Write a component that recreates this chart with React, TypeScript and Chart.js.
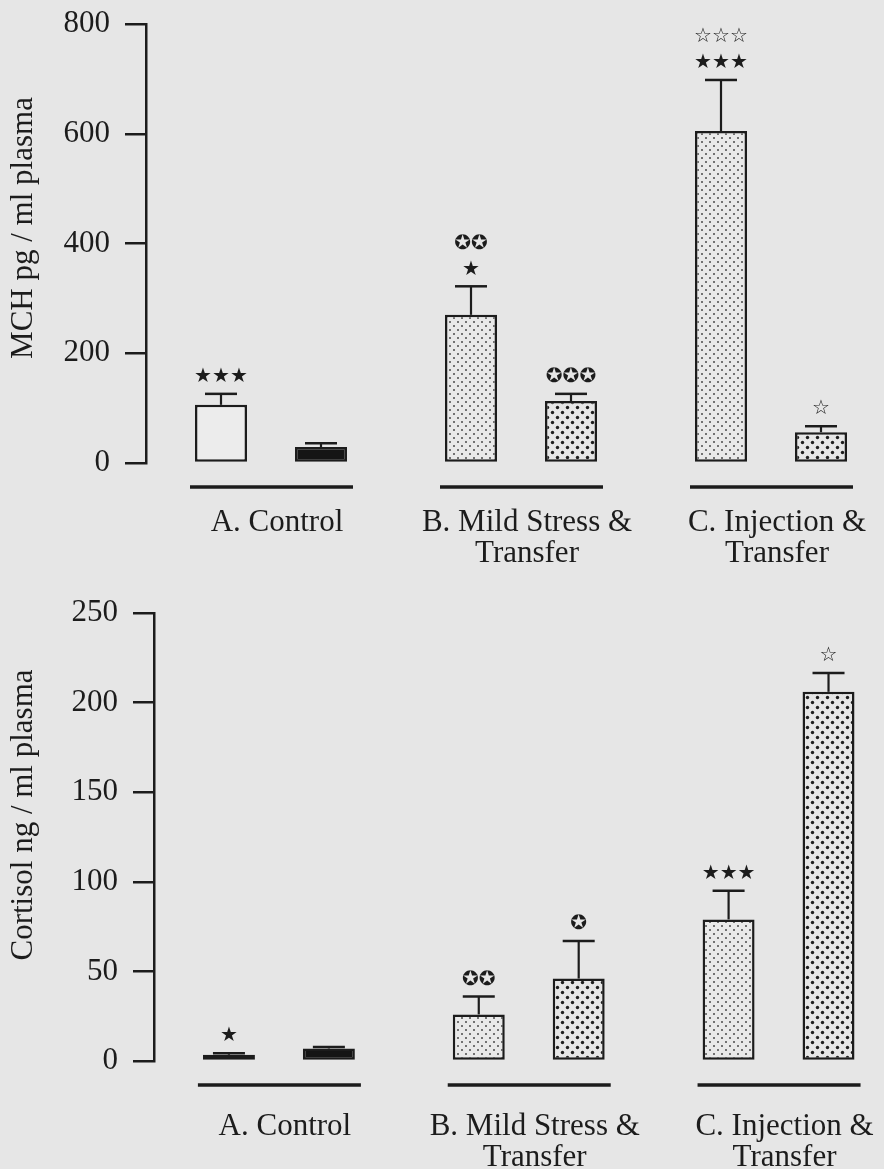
import React, { useEffect, useRef } from "react";
import { Chart, registerables } from "chart.js";

Chart.register(...registerables);

// ---------- data ----------
const groupLabels = [["A. Control"], ["B. Mild Stress &", "Transfer"], ["C. Injection &", "Transfer"]];

// MCH (pg / ml plasma)
const mchFirst = [106, 270, 605];
const mchFirstErr = [20, 52, 93];
const mchSecond = [29, 113, 56];
const mchSecondErr = [7, 13, 11];
const mchFirstMarks = [["★★★"], ["✪✪", "★"], ["☆☆☆", "★★★"]];
const mchSecondMarks = [[], ["✪✪✪"], ["☆"]];
const mchTicks = [0, 200, 400, 600, 800];

// Cortisol (ng / ml plasma)
const cortFirst = [3.5, 26, 79];
const cortFirstErr = [0.8, 10, 16];
const cortSecond = [7, 46, 206];
const cortSecondErr = [0.8, 21, 10.5];
const cortFirstMarks = [["★"], ["✪✪"], ["★★★"]];
const cortSecondMarks = [[], ["✪"], ["☆"]];
const cortTicks = [0, 50, 100, 150, 200, 250];

// ---------- style ----------
const INK = "#1c1c1c";
const PAGE = "#e6e6e6";
const SERIF = '"Liberation Serif", "Times New Roman", serif';

function makeDots(bg: string, tile: number, dot: number, color: string) {
  const c = document.createElement("canvas");
  c.width = tile;
  c.height = tile;
  const g = c.getContext("2d")!;
  g.fillStyle = bg;
  g.fillRect(0, 0, tile, tile);
  g.fillStyle = color;
  for (const [px, py] of [[tile * 0.25, tile * 0.25], [tile * 0.75, tile * 0.75]]) {
    g.beginPath();
    g.arc(px, py, dot / 2, 0, Math.PI * 2);
    g.fill();
  }
  return g.createPattern(c, "repeat");
}

type PanelCfg = {
  top: number;
  width: number;
  height: number;
  axisWidth: number;
  padTop: number;
  padRight: number;
  xAxisHeight: number;
  labelPad: number;
  max: number;
  ticks: number[];
  first: number[];
  firstErr: number[];
  second: number[];
  secondErr: number[];
  firstMarks: string[][];
  secondMarks: string[][];
  title: string;
  titleX: number;
  titleY: number;
};

function Panel({ cfg }: { cfg: PanelCfg }) {
  const ref = useRef<HTMLCanvasElement | null>(null);
  useEffect(() => {
    const canvas = ref.current!;
    const light = makeDots("#e9e9e9", 8, 2, "#4a4a4a");
    const dense = makeDots("#e6e6e6", 10, 3.4, "#1e1e1e");
    const errors = [cfg.firstErr, cfg.secondErr];
    const marks = [cfg.firstMarks, cfg.secondMarks];

    const overlay = {
      id: "overlay",
      afterDatasetsDraw(chart: any) {
        const ctx = chart.ctx as CanvasRenderingContext2D;
        const xs = chart.scales.x;
        const ys = chart.scales.y;
        ctx.save();
        ctx.strokeStyle = INK;
        ctx.fillStyle = INK;
        // group base lines
        const baseY = ys.getPixelForValue(0) + 24;
        ctx.lineWidth = 3.5;
        for (let i = 0; i < chart.data.labels.length; i++) {
          const cx = xs.getPixelForValue(i);
          ctx.beginPath();
          ctx.moveTo(cx - 81, baseY);
          ctx.lineTo(cx + 82, baseY);
          ctx.stroke();
        }
        // error bars + significance marks
        chart.data.datasets.forEach((ds: any, di: number) => {
          const meta = chart.getDatasetMeta(di);
          meta.data.forEach((el: any, j: number) => {
            const v = ds.data[j];
            const capY = ys.getPixelForValue(v + errors[di][j]);
            ctx.lineWidth = 2.2;
            ctx.beginPath();
            ctx.moveTo(el.x, el.y);
            ctx.lineTo(el.x, capY);
            ctx.stroke();
            ctx.lineWidth = 2.5;
            ctx.beginPath();
            ctx.moveTo(el.x - 16, capY);
            ctx.lineTo(el.x + 16, capY);
            ctx.stroke();
            const m = marks[di][j];
            ctx.font = '20px "DejaVu Sans"';
            ctx.textAlign = "center";
            ctx.textBaseline = "middle";
            m.forEach((s: string, k: number) => {
              const yy = capY - 17 - (m.length - 1 - k) * 26;
              ctx.fillText(s, el.x, yy);
            });
          });
        });
        // y-axis title
        ctx.translate(cfg.titleX, cfg.titleY);
        ctx.rotate(-Math.PI / 2);
        ctx.font = `31px ${SERIF}`;
        ctx.textAlign = "center";
        ctx.textBaseline = "middle";
        ctx.fillText(cfg.title, 0, 0);
        ctx.restore();
      },
    };

    const chart = new Chart(canvas, {
      type: "bar",
      data: {
        labels: groupLabels as any,
        datasets: [
          {
            data: cfg.first,
            backgroundColor: ["#ececec", light as any, light as any],
            borderColor: INK,
            borderWidth: 2.5,
            borderSkipped: false,
            categoryPercentage: 0.8,
            barPercentage: 0.52,
          },
          {
            data: cfg.second,
            backgroundColor: ["#151515", dense as any, dense as any],
            borderColor: INK,
            borderWidth: 2.5,
            borderSkipped: false,
            categoryPercentage: 0.8,
            barPercentage: 0.52,
          },
        ],
      },
      options: {
        responsive: false,
        animation: false,
        devicePixelRatio: 1,
        layout: { padding: { top: cfg.padTop, right: cfg.padRight, left: 0, bottom: 0 } },
        plugins: { legend: { display: false }, tooltip: { enabled: false } },
        scales: {
          x: {
            type: "category",
            afterFit: (s: any) => {
              s.height = cfg.xAxisHeight;
            },
            grid: { display: false, drawTicks: false, tickLength: 0 },
            border: { display: false },
            ticks: {
              color: INK,
              font: { family: SERIF, size: 31, lineHeight: 1.0 },
              padding: cfg.labelPad,
              maxRotation: 0,
              minRotation: 0,
              autoSkip: false,
              labelOffset: 6,
            },
          },
          y: {
            type: "linear",
            min: 0,
            max: cfg.max,
            afterFit: (s: any) => {
              s.width = cfg.axisWidth;
            },
            afterBuildTicks: (s: any) => {
              s.ticks = cfg.ticks.map((v) => ({ value: v }));
            },
            border: { display: true, color: INK, width: 2.5 },
            grid: { drawOnChartArea: false, drawTicks: true, tickLength: 21, color: INK, lineWidth: 2.5 },
            ticks: { color: INK, font: { family: SERIF, size: 31, lineHeight: 0.4 }, padding: 15 },
          },
        },
      },
      plugins: [overlay],
    } as any);
    return () => chart.destroy();
  }, []);
  return (
    <canvas
      ref={ref}
      width={cfg.width}
      height={cfg.height}
      style={{ position: "absolute", left: 0, top: cfg.top, width: cfg.width, height: cfg.height, display: "block" }}
    />
  );
}

const topCfg: PanelCfg = {
  top: 0,
  width: 910,
  height: 580,
  axisWidth: 146,
  padTop: 24,
  padRight: 14,
  xAxisHeight: 117,
  labelPad: 44,
  max: 800,
  ticks: mchTicks,
  first: mchFirst,
  firstErr: mchFirstErr,
  second: mchSecond,
  secondErr: mchSecondErr,
  firstMarks: mchFirstMarks,
  secondMarks: mchSecondMarks,
  title: "MCH pg / ml plasma",
  titleX: 24,
  titleY: 228,
};

const bottomCfg: PanelCfg = {
  top: 580,
  width: 920,
  height: 589,
  axisWidth: 154,
  padTop: 33,
  padRight: 14,
  xAxisHeight: 108,
  labelPad: 50,
  max: 250,
  ticks: cortTicks,
  first: cortFirst,
  firstErr: cortFirstErr,
  second: cortSecond,
  secondErr: cortSecondErr,
  firstMarks: cortFirstMarks,
  secondMarks: cortSecondMarks,
  title: "Cortisol ng / ml plasma",
  titleX: 24,
  titleY: 235,
};

export default function App() {
  return (
    <div
      style={{
        position: "fixed",
        left: 0,
        top: 0,
        width: 884,
        height: 1169,
        overflow: "hidden",
        background: PAGE,
      }}
    >
      <Panel cfg={topCfg} />
      <Panel cfg={bottomCfg} />
    </div>
  );
}
